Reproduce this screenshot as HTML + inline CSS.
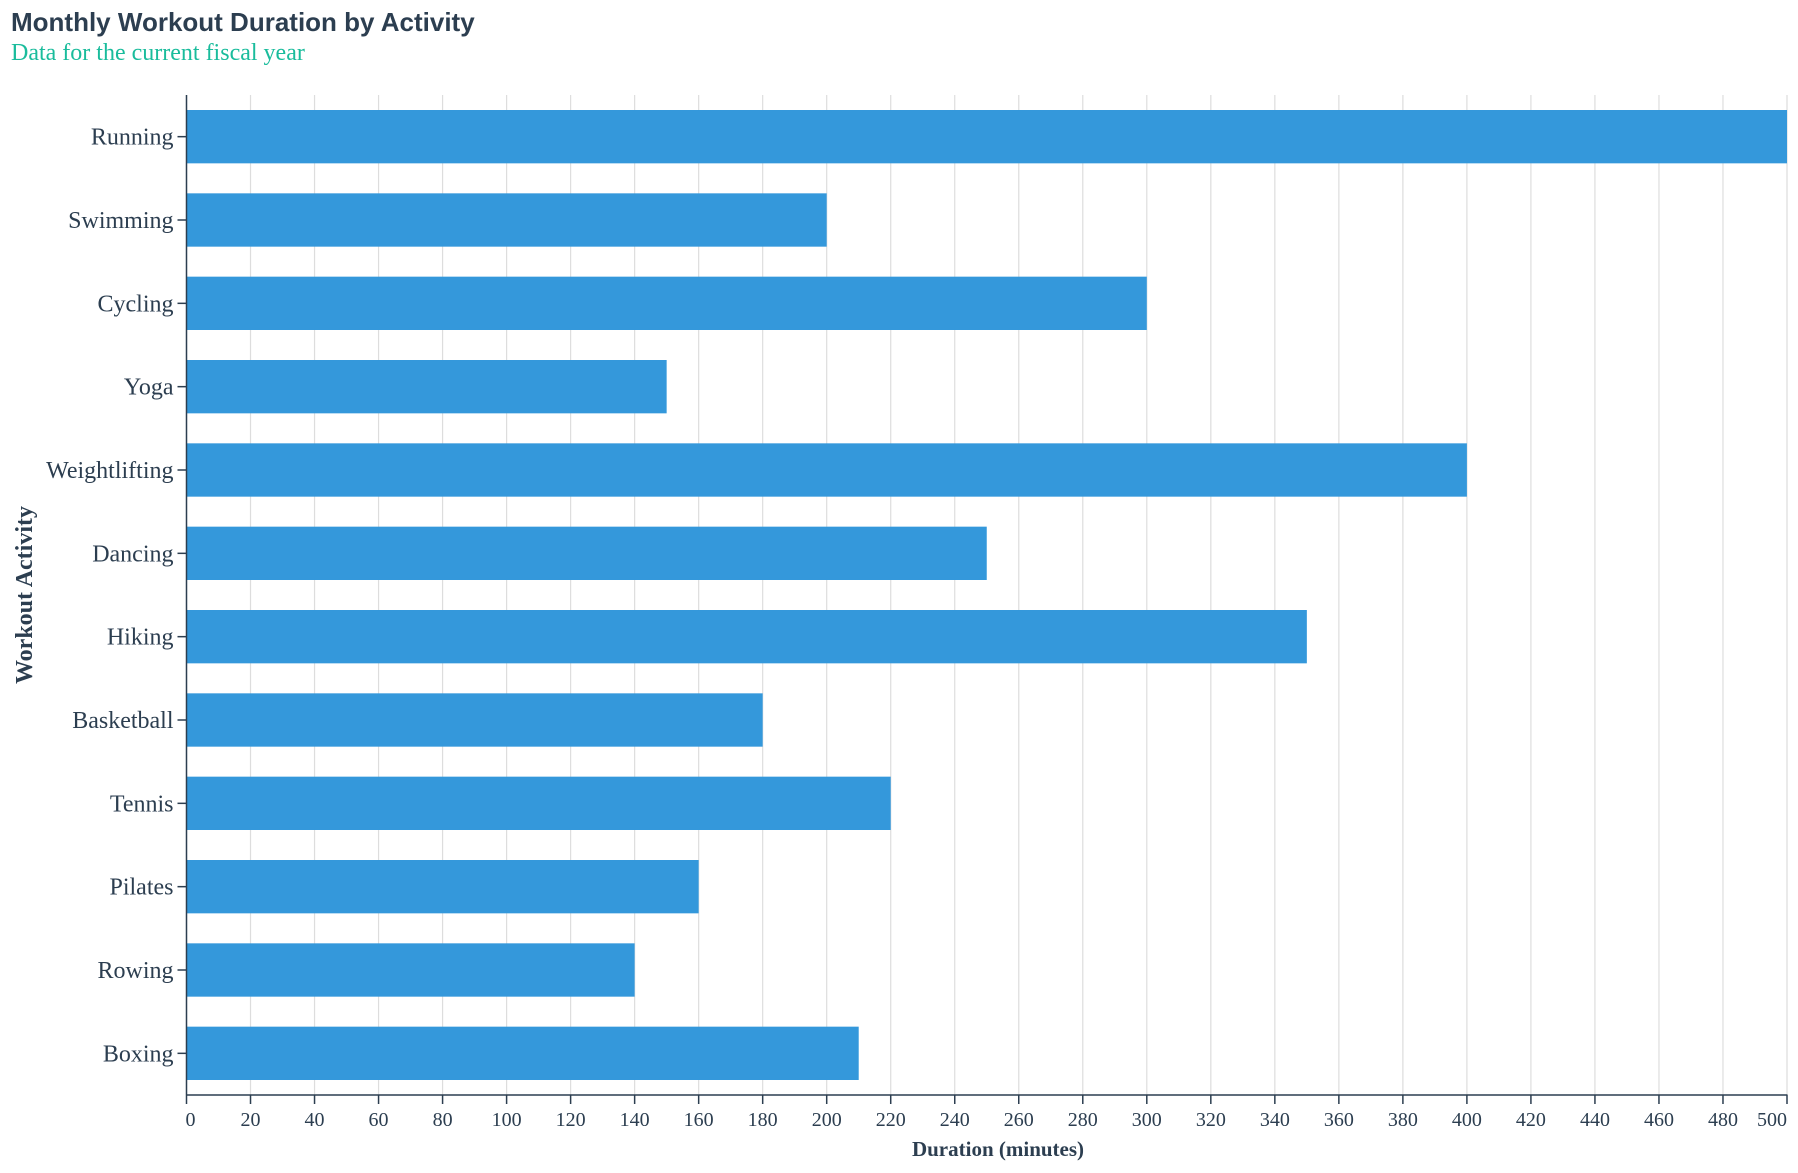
<!DOCTYPE html>
<html><head><meta charset="utf-8"><style>
html,body{margin:0;padding:0;background:#fff;}
svg text{font-family:"Liberation Serif",serif;}
</style></head><body>
<svg id="chart" width="1798" height="1168" viewBox="0 0 1798 1168" xmlns="http://www.w3.org/2000/svg">
<text x="11" y="31" style="font-family:'Liberation Sans',sans-serif" font-weight="bold" font-size="26" fill="#2c3e50">Monthly Workout Duration by Activity</text>
<text x="11" y="60" font-size="24" fill="#1abc9c">Data for the current fiscal year</text>
<g id="grid"></g><g id="bars"></g><g id="axes"></g>
<text x="998" y="1156" text-anchor="middle" font-weight="bold" font-size="21" fill="#2c3e50">Duration (minutes)</text>
<text transform="translate(32,595) rotate(-90)" text-anchor="middle" font-weight="bold" font-size="24" fill="#2c3e50">Workout Activity</text>
</svg>
<script>
const categories=["Running","Swimming","Cycling","Yoga","Weightlifting","Dancing","Hiking","Basketball","Tennis","Pilates","Rowing","Boxing"];
const durations=[500,200,300,150,400,250,350,180,220,160,140,210];
const xTicks=[0,20,40,60,80,100,120,140,160,180,200,220,240,260,280,300,320,340,360,380,400,420,440,460,480,500];
const NS="http://www.w3.org/2000/svg";
const L=186.5,R=1787,T=95,B=1095,XMAX=500;
const x=v=>L+(R-L)*v/XMAX;
const step=(B-T)/categories.length;
const yBand=i=>T+i*step;
function mk(tag,attrs,parent){const e=document.createElementNS(NS,tag);for(const k in attrs)e.setAttribute(k,attrs[k]);parent.appendChild(e);return e;}
const grid=document.getElementById('grid'),bars=document.getElementById('bars'),axes=document.getElementById('axes');
xTicks.forEach(t=>{
  const g=mk('line',{x1:x(t),x2:x(t),y1:T,y2:B,stroke:'#dddddd','stroke-width':1.2},grid);
  
  
  const tk=mk('line',{x1:x(t),x2:x(t),y1:B,y2:B+9,stroke:'#2c3e50','stroke-width':1.5},axes);
  
  
  const anchor=t===xTicks[0]?'start':(t===xTicks[xTicks.length-1]?'end':'middle');
  const lb=mk('text',{x:x(t)+(anchor==='start'?-1:0),y:B+31,'text-anchor':anchor,'font-size':20,fill:'#2c3e50'},axes);
  lb.textContent=t;
  
  
});
mk('line',{x1:L,x2:L,y1:T,y2:B,stroke:'#2c3e50','stroke-width':1.5},axes);
mk('line',{x1:L,x2:R+0.5,y1:B,y2:B,stroke:'#2c3e50','stroke-width':1.5},axes);
categories.forEach((c,i)=>{
  const y0=yBand(i),pad=step*0.18,cy=y0+step/2;
  const r=mk('rect',{x:L,y:y0+pad,width:x(durations[i])-L,height:step-2*pad,fill:'#3498db'},bars);
  
  
  const tk=mk('line',{x1:L-9,x2:L,y1:cy,y2:cy,stroke:'#2c3e50','stroke-width':1.5},axes);
  
  
  const lb=mk('text',{x:L-13,y:cy+8,'text-anchor':'end','font-size':24,fill:'#2c3e50'},axes);
  lb.textContent=c;
  
  
});
</script>
</body></html>
